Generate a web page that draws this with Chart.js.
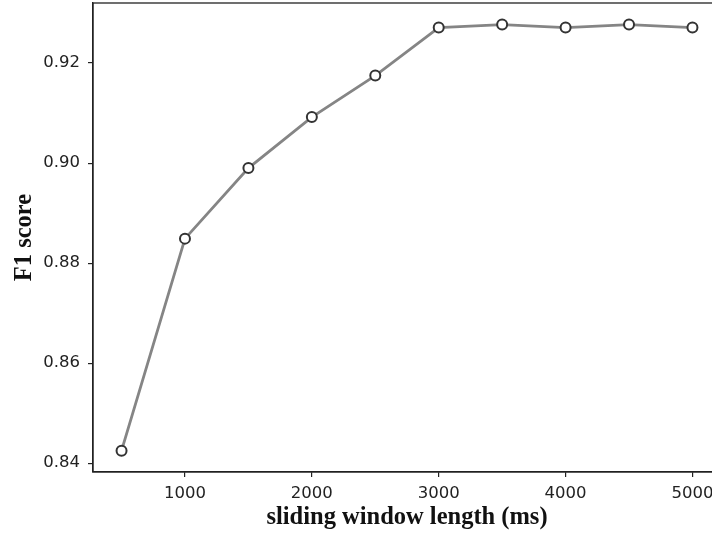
<!DOCTYPE html>
<html>
<head>
<meta charset="utf-8">
<script src="https://cdn.jsdelivr.net/npm/chart.js@4/dist/chart.umd.min.js"></script>
<style>
  html, body { margin: 0; padding: 0; background: #fff; overflow: hidden; width: 712px; height: 535px; }
  #wrap { width: 721px; height: 535px; }
</style>
</head>
<body>
<div id="wrap"><canvas id="c" width="721" height="535"></canvas></div>
<script>
const windowLengths = [500, 1000, 1500, 2000, 2500, 3000, 3500, 4000, 4500, 5000];
const f1Scores = [0.8425, 0.8849, 0.8990, 0.9092, 0.9175, 0.9271, 0.9277, 0.9271, 0.9277, 0.9271];
const xTicks = [1000, 2000, 3000, 4000, 5000];
const yTicks = [0.84, 0.86, 0.88, 0.90, 0.92];
const xTitle = 'sliding window length (ms)';
const yTitle = 'F1 score';

const points = windowLengths.map((x, i) => ({ x: x, y: f1Scores[i] }));

const boxPlugin = {
  id: 'box',
  afterDraw(chart) {
    const { ctx, chartArea: a } = chart;
    ctx.save();
    ctx.strokeStyle = '#222';
    ctx.lineWidth = 1.3;
    ctx.strokeRect(a.left, a.top, a.right - a.left, a.bottom - a.top);
    ctx.restore();
  }
};

function zeroPad(s) { s.paddingTop = 0; s.paddingBottom = 0; s.paddingLeft = 0; s.paddingRight = 0; }

const tickFont = { family: 'DejaVu Sans', size: 16.5 };
const titleFont = { family: 'Liberation Serif', size: 24.5, weight: 'bold' };

new Chart(document.getElementById('c'), {
  type: 'line',
  data: {
    datasets: [{
      data: points,
      borderColor: '#858585',
      borderWidth: 2.8,
      pointRadius: 5,
      pointBorderWidth: 2,
      pointBorderColor: '#333',
      pointBackgroundColor: '#fff',
      tension: 0
    }]
  },
  options: {
    responsive: false,
    animation: false,
    layout: { autoPadding: false, padding: { top: 3, left: 0, right: 0, bottom: 0 } },
    plugins: { legend: { display: false }, tooltip: { enabled: false } },
    scales: {
      x: {
        type: 'linear',
        min: 275,
        max: 5225,
        afterBuildTicks: s => { s.ticks = xTicks.map(v => ({ value: v })); },
        afterFit: s => { s.height = 63; zeroPad(s); },
        grid: { drawOnChartArea: false, drawTicks: true, tickLength: 5, color: '#222', lineWidth: 1.2 },
        border: { display: true, color: '#222', width: 1.3 },
        ticks: { font: tickFont, color: '#222', padding: 7, maxRotation: 0, autoSkip: false,
                 callback: v => String(v) },
        title: { display: true, text: xTitle, font: titleFont, color: '#111', padding: { top: 0, bottom: 3 } }
      },
      y: {
        type: 'linear',
        min: 0.83824,
        max: 0.93201,
        afterBuildTicks: s => { s.ticks = yTicks.map(v => ({ value: v })); },
        afterFit: s => { s.width = 93; zeroPad(s); },
        grid: { drawOnChartArea: false, drawTicks: true, tickLength: 5, color: '#222', lineWidth: 1.2 },
        border: { display: true, color: '#222', width: 1.3 },
        ticks: { font: tickFont, color: '#222', padding: 8, autoSkip: false,
                 callback: v => v.toFixed(2) },
        title: { display: true, text: yTitle, font: titleFont, color: '#111', padding: { top: 10, bottom: 0 } }
      }
    }
  },
  plugins: [boxPlugin]
});
</script>
</body>
</html>
